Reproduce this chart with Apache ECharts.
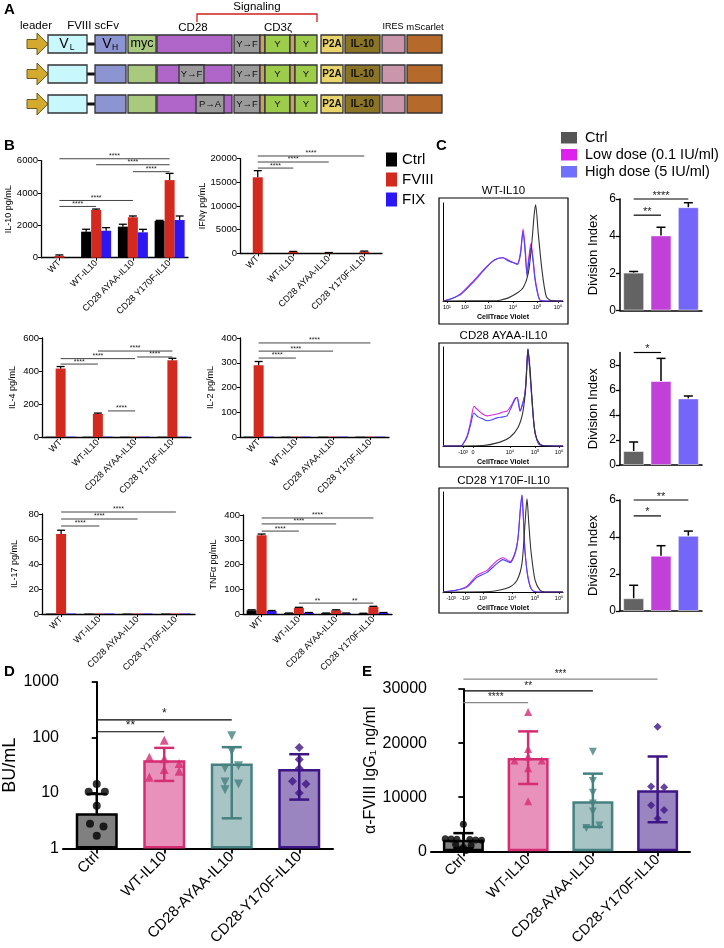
<!DOCTYPE html>
<html><head><meta charset="utf-8">
<script src="https://cdn.jsdelivr.net/npm/echarts@6/dist/echarts.min.js"></script>
<style>html,body{margin:0;padding:0;background:#fff}#c{width:724px;height:948px}</style>
</head><body><div id="c"></div>
<script>
const FONT = '"Liberation Sans", Arial, Helvetica, sans-serif';

// ---------- Panel B data ----------
const bGroups = ['WT', 'WT-IL10', 'CD28 AYAA-IL10', 'CD28 Y170F-IL10'];
const bConds = ['Ctrl', 'FVIII', 'FIX'];
const bColors = ['#000000', '#d3291f', '#2b17f5'];

const il10Ctrl = [0, 1610, 1920, 2270];
const il10Fviii = [110, 2950, 2500, 4800];
const il10Fix = [0, 1670, 1570, 2330];
const il10CtrlSd = [0, 150, 150, 40];
const il10FviiiSd = [60, 60, 80, 415];
const il10FixSd = [0, 190, 185, 250];
const il10Sig = [[0,0,3,0,6120],[1,0,3,0,5750],[2,0,3,0,5320],[0,0,2,0,3540],[0,0,1,0,3170]];
const il10SigLab = ['****','****','****','****','****'];

const ifnCtrl = [0, 0, 0, 0];
const ifnFviii = [16050, 300, 100, 350];
const ifnFix = [0, 0, 0, 0];
const ifnCtrlSd = [0, 0, 0, 0];
const ifnFviiiSd = [1400, 100, 60, 120];
const ifnFixSd = [0, 0, 0, 0];
const ifnSig = [[0,0,1,0,18000],[0,0,2,0,19280],[0,0,3,0,20550]];
const ifnSigLab = ['****','****','****'];

const il4Ctrl = [2, 2, 2, 2];
const il4Fviii = [415, 140, 2, 465];
const il4Fix = [2, 2, 2, 2];
const il4CtrlSd = [0, 0, 0, 0];
const il4FviiiSd = [12, 5, 0, 12];
const il4FixSd = [0, 0, 0, 0];
const il4Sig = [[1,0,3,0,521],[0,0,2,0,475],[2,0.2,3,0,485],[0,0,1,0,442],[1,1,2,0,158]];
const il4SigLab = ['****','****','****','****','****'];

const il2Ctrl = [1.5, 1.5, 1.5, 1.5];
const il2Fviii = [290, 1.5, 1.5, 1.5];
const il2Fix = [1.5, 1.5, 1.5, 1.5];
const il2CtrlSd = [0, 0, 0, 0];
const il2FviiiSd = [15, 0, 0, 0];
const il2FixSd = [0, 0, 0, 0];
const il2Sig = [[0,0,1,0,319],[0,0,2,0,347],[0,0,3,0,380]];
const il2SigLab = ['****','****','****'];

const il17Ctrl = [0.4, 0.4, 0.4, 0.4];
const il17Fviii = [64, 0.4, 0.4, 0.4];
const il17Fix = [0.4, 0.4, 0.4, 0.4];
const il17CtrlSd = [0, 0, 0, 0];
const il17FviiiSd = [3, 0, 0, 0];
const il17FixSd = [0, 0, 0, 0];
const il17Sig = [[0,0,1,0,70.4],[0,0,2,0,76],[0,0,3,0,81.6]];
const il17SigLab = ['****','****','****'];

const tnfCtrl = [15, 3, 3, 2];
const tnfFviii = [318, 25, 15, 28];
const tnfFix = [12, 5, 3, 5];
const tnfCtrlSd = [2, 1, 1, 1];
const tnfFviiiSd = [5, 2, 2, 3];
const tnfFixSd = [2, 1, 1, 1];
const tnfSig = [[0,0,1,0,335],[0,0,2,0,364],[0,0,3,0,388],[1,0,2,0,44],[2,0,3,0,44]];
const tnfSigLab = ['****','****','****','**','**'];

// ---------- Panel C data ----------
const cConds = ['Ctrl', 'Low dose (0.1 IU/ml)', 'High dose (5 IU/ml)'];
const cColors = ['#636363', '#c040d8', '#7366f8'];
const cWtDi = [2.04, 4.04, 5.56];
const cWtSd = [0.06, 0.44, 0.24];
const cWtSig = [[0,0,1,0,5.13],[0,0,2,0,6.0]];
const cWtSigLab = ['**', '****'];
const cAyaaDi = [1.12, 6.72, 5.33];
const cAyaaSd = [0.72, 1.81, 0.19];
const cAyaaSig = [[0,0,1,0,9.0]];
const cAyaaSigLab = ['*'];
const cY170fDi = [0.69, 2.99, 4.07];
const cY170fSd = [0.7, 0.54, 0.25];
const cY170fSig = [[0,0,1,0,5.14],[0,0,2,0,6.0]];
const cY170fSigLab = ['*', '**'];

// histogram curves: [channel (0-1000), % of max]
const h1Ctrl = [[0,0],[450,0.3],[475,0.8],[540,3],[614,8],[669,14],[711,29],[739,59],[760,90],[772,100],[794,70],[822,35],[845,14],[864,4],[900,0.5],[1000,0]];
const h1Low = [[0,0],[33,1],[100,4],[150,8],[200,14],[270,23],[333,32],[400,40],[450,44],[500,45],[540,43],[583,40],[620,39],[645,50],[667,75],[685,55],[700,29],[715,45],[733,60],[750,45],[767,24],[790,8],[808,1],[850,0],[1000,0]];
const h1High = [[0,0],[33,1],[100,4],[150,7],[200,13],[270,22],[333,31],[400,40],[450,44],[500,45],[540,42],[583,40],[620,38],[645,48],[667,72],[685,50],[700,26],[715,42],[733,56],[750,42],[767,22],[790,7],[808,1],[850,0],[1000,0]];
const h1TickPos = [33, 183, 375, 583, 783, 958];
const h1TickLab = ['10¹', '10²', '10³', '10⁴', '10⁵', '10⁶'];

const h2Ctrl = [[0,0],[330,0.5],[475,4],[558,9],[625,19],[667,36],[692,64],[708,100],[725,80],[742,49],[767,13],[808,2],[850,0],[1000,0]];
const h2Low = [[0,0],[150,0],[167,2],[200,10],[230,25],[258,41],[275,39],[292,37],[330,33],[367,31],[410,32],[450,33],[500,35],[533,36],[570,42],[600,49],[617,50],[630,44],[642,36],[660,42],[683,54],[695,75],[708,100],[725,75],[742,46],[760,20],[783,6],[810,1],[1000,0]];
const h2High = [[0,0],[150,0],[167,2],[200,9],[230,22],[258,34],[275,32],[292,30],[330,28],[367,26],[410,27],[450,29],[500,30],[533,31],[570,40],[600,48],[617,50],[630,44],[642,36],[660,42],[683,54],[695,75],[708,100],[725,75],[742,46],[760,20],[783,6],[810,1],[1000,0]];
const h2TickPos = [167, 250, 558, 767, 967];
const h2TickLab = ['-10³', '0', '10⁴', '10⁵', '10⁶'];

const h3Ctrl = [[0,0],[400,0.5],[475,2],[558,5],[617,12],[658,29],[683,69],[700,95],[715,70],[733,42],[767,12],[808,2],[850,0],[1000,0]];
const h3Low = [[0,0],[117,2],[200,6],[283,17],[367,22],[450,32],[500,35],[558,31],[600,40],[625,55],[645,85],[658,99],[670,75],[683,42],[708,15],[742,2],[800,0],[1000,0]];
const h3High = [[0,0],[117,2],[200,5],[283,15],[367,20],[450,29],[500,33],[558,30],[600,39],[625,55],[645,85],[658,99],[670,75],[683,42],[708,15],[742,2],[800,0],[1000,0]];
const h3TickPos = [67, 183, 333, 575, 767, 967];
const h3TickLab = ['-10³', '-10²', '10³', '10⁴', '10⁵', '10⁶'];

// ---------- Panel D data ----------
const deCats = ['Ctrl', 'WT-IL10', 'CD28-AYAA-IL10', 'CD28-Y170F-IL10'];
const deFill = ['#808080', '#e892bb', '#a8c4c4', '#9b85c1'];
const deEdge = ['#000000', '#d42d72', '#468181', '#3d1585'];
const buMean = [4.3, 39, 34, 27];
const buHi = [9.6, 65, 67, 50];
const buLo = [0, 16.5, 3.5, 7.6];
const buCtrlPts = [14.5, 10.5, 10.5, 5.9, 2.8, 2.5, 1.7];
const buCtrlJit = [0, -0.12, 0.12, 0, -0.1, 0.1, 0];
const buWtPts = [89, 44, 41.5, 34, 26.5, 24.6, 19.2];
const buWtJit = [0, -0.22, 0, 0.22, 0, 0.22, -0.22];
const buAyaaPts = [108, 57, 28, 31, 15.8, 14.5, 11.5];
const buAyaaJit = [0, 0, -0.1, 0.1, -0.1, 0.1, -0.1];
const buY170fPts = [66, 40, 27.5, 16.3, 14.5, 10];
const buY170fJit = [0, 0, 0, -0.1, 0.1, 0];
const buSig = [[0,0,1,0,127],[0,0,2,0,207]];
const buSigLab = ['**', '*'];

// ---------- Panel E data ----------
const igMean = [2150, 17250, 9270, 11290];
const igHi = [3370, 22170, 14360, 17530];
const igLo = [590, 12450, 4510, 5380];
const igCtrlPts = [5030, 2350, 2300, 2250, 2200, 2100, 2050, 1300, 1100, 700, 400, 150];
const igCtrlJit = [0, -0.28, -0.19, -0.1, 0.1, 0.19, 0.28, -0.12, 0.12, 0, -0.06, 0.04];
const igWtPts = [25760, 18920, 17530, 16790, 16790, 15350, 9270];
const igWtJit = [0, 0, 0, -0.21, 0.21, 0, 0];
const igAyaaPts = [18400, 13020, 10830, 8850, 7360, 4800, 4340];
const igAyaaJit = [0, 0, 0, 0, 0, 0.1, -0.1];
const igY170fPts = [23040, 11980, 11870, 8510, 7640, 6080];
const igY170fJit = [0, -0.1, 0.1, -0.1, 0.1, 0];
const igSig = [[0,0,1,0,27500],[0,0,2,0,29640],[0,0,3,0,31840]];
const igSigLab = ['****', '**', '***'];

// ================= builders =================
const BW = 10;
const plain = function (v) { return String(v); };
const grids = [], xAxes = [], yAxes = [], series = [];
const lineAx = (w) => ({ show: true, lineStyle: { color: '#000', width: w } });
const tickAx = (len, w) => ({ show: true, length: len, lineStyle: { color: '#000', width: w || 1 } });

function sigSeries(xi, yi, items, labels, o) {
  return {
    type: 'custom', xAxisIndex: xi, yAxisIndex: yi, data: items, silent: true, clip: false, z: 6,
    encode: { x: 0, y: 4 },
    renderItem: function (params, api) {
      const i = params.dataIndex;
      const p1 = api.coord([api.value(0), api.value(4)]);
      const p2 = api.coord([api.value(2), api.value(4)]);
      const x1 = p1[0] + api.value(1) * (o.bw || 0);
      const x2 = p2[0] + api.value(3) * (o.bw || 0);
      const y = p1[1];
      const col = o.colors ? o.colors[i] : (o.color || '#222');
      return { type: 'group', children: [
        { type: 'line', shape: { x1: x1, y1: y, x2: x2, y2: y }, style: { stroke: col, lineWidth: o.lw || 1 } },
        { type: 'text', x: (x1 + x2) / 2, y: y - (o.dy || 0), style: { text: labels[i], fill: '#222', fontSize: o.fs || 7, fontFamily: FONT, align: 'center', verticalAlign: 'bottom', textAlign: 'center', textVerticalAlign: 'bottom' } }
      ] };
    }
  };
}

function errUp(xi, yi, data, capHalf, lw, bw) {
  return {
    type: 'custom', xAxisIndex: xi, yAxisIndex: yi, data: data, silent: true, z: 4, clip: false,
    encode: { x: 0, y: 1 },
    renderItem: function (params, api) {
      const p = api.coord([api.value(0), api.value(1)]);
      const t = api.coord([api.value(0), api.value(1) + api.value(2)]);
      const x = p[0] + api.value(3) * bw;
      return { type: 'group', children: [
        { type: 'line', shape: { x1: x, y1: p[1], x2: x, y2: t[1] }, style: { stroke: '#000', lineWidth: lw } },
        { type: 'line', shape: { x1: x - capHalf, y1: t[1], x2: x + capHalf, y2: t[1] }, style: { stroke: '#000', lineWidth: lw } }
      ] };
    }
  };
}

function barChartB(o) {
  const gi = grids.push({ left: o.l, top: o.t, width: o.r - o.l, height: o.b - o.t }) - 1;
  const xi = xAxes.push({ gridIndex: gi, type: 'category', data: bGroups,
    axisLine: lineAx(1.3), axisTick: Object.assign(tickAx(3), { alignWithLabel: true }),
    axisLabel: { interval: 0, rotate: 45, fontSize: 9, fontFamily: FONT, color: '#000', margin: 4 } }) - 1;
  const yi = yAxes.push({ gridIndex: gi, type: 'value', min: 0, max: o.max, interval: o.interval,
    name: o.name, nameLocation: 'middle', nameGap: o.nameGap, nameRotate: 90,
    nameTextStyle: { fontSize: 9, fontFamily: FONT, color: '#000' },
    axisLine: lineAx(1.3), axisTick: tickAx(3), splitLine: { show: false },
    axisLabel: { formatter: plain, fontSize: 9.5, fontFamily: FONT, color: '#000', margin: 3 } }) - 1;
  const vals = [o.ctrl, o.fviii, o.fix], sds = [o.ctrlSd, o.fviiiSd, o.fixSd];
  vals.forEach(function (v, k) {
    series.push({ type: 'bar', name: bConds[k], xAxisIndex: xi, yAxisIndex: yi, data: v, barWidth: BW, barGap: '0%',
      itemStyle: { color: bColors[k] }, silent: true });
  });
  const eb = [];
  vals.forEach(function (v, k) { v.forEach(function (m, i) { if (sds[k][i] > 0) eb.push([i, m, sds[k][i], k - 1]); }); });
  series.push(errUp(xi, yi, eb, 4, 1.3, BW));
  series.push(sigSeries(xi, yi, o.sig, o.sigLab, { bw: BW, fs: 7, lw: 1, color: '#444', dy: -1 }));
}

function histPanel(o) {
  const gi = grids.push({ left: 443, top: o.t, width: 120, height: o.b - o.t }) - 1;
  const xi = xAxes.push({ gridIndex: gi, type: 'value', min: 0, max: 1000, splitLine: { show: false },
    axisLine: lineAx(1), axisTick: { show: true, customValues: o.tickPos, length: 2, lineStyle: { color: '#000', width: 0.8 } },
    axisLabel: { customValues: o.tickPos, formatter: function (v) { const j = o.tickPos.indexOf(v); return j >= 0 ? o.tickLab[j] : ''; },
      fontSize: 5.5, fontFamily: FONT, color: '#000', margin: 3 },
    name: 'CellTrace Violet', nameLocation: 'middle', nameGap: 13,
    nameTextStyle: { fontSize: 7, fontWeight: 'bold', fontFamily: FONT, color: '#000' } }) - 1;
  const yi = yAxes.push({ gridIndex: gi, type: 'value', min: 0, max: 102, axisLine: lineAx(1),
    axisTick: { show: false }, axisLabel: { show: false }, splitLine: { show: false } }) - 1;
  [[o.low, '#dd22dd'], [o.high, '#4646ff'], [o.ctrl, '#333333']].forEach(function (a) {
    series.push({ type: 'line', xAxisIndex: xi, yAxisIndex: yi, data: a[0], showSymbol: false, symbol: 'none', smooth: 0.25,
      lineStyle: { color: a[1], width: 1.1 }, silent: true });
  });
}

function cBar(o) {
  const gi = grids.push({ left: 620, top: o.t, width: 82, height: o.b - o.t }) - 1;
  const xi = xAxes.push({ gridIndex: gi, type: 'category', data: cConds, axisLine: lineAx(1.5),
    axisTick: { show: false }, axisLabel: { show: false } }) - 1;
  const ticks = [];
  for (let v = 0; v <= o.labMax; v += 2) ticks.push(v);
  const yi = yAxes.push({ gridIndex: gi, type: 'value', min: 0, max: o.max, interval: 2,
    name: 'Division Index', nameLocation: 'middle', nameGap: 20, nameRotate: 90,
    nameTextStyle: { fontSize: 13, fontFamily: FONT, color: '#000' },
    axisLine: lineAx(1.5), axisTick: { show: true, length: 4, customValues: ticks, lineStyle: { color: '#000', width: 1.3 } },
    splitLine: { show: false },
    axisLabel: { customValues: ticks, formatter: plain, fontSize: 12, fontFamily: FONT, color: '#000', margin: 4 } }) - 1;
  series.push({ type: 'bar', xAxisIndex: xi, yAxisIndex: yi, barWidth: 21, silent: true,
    data: o.vals.map(function (v, i) { return { value: v, itemStyle: { color: cColors[i], borderColor: 'rgba(255,255,255,0.5)', borderWidth: 1 } }; }) });
  series.push(errUp(xi, yi, o.vals.map(function (v, i) { return [i, v, o.sd[i], 0]; }), 4.5, 1.5, 0));
  series.push(sigSeries(xi, yi, o.sig, o.sigLab, { fs: 11, lw: 1.2, color: '#000', dy: -2 }));
}

function errDE(xi, yi, mean, lo, hi, capHalf, lw) {
  return {
    type: 'custom', xAxisIndex: xi, yAxisIndex: yi, silent: true, z: 4, clip: false,
    data: mean.map(function (m, i) { return [i, m, lo[i], hi[i]]; }),
    encode: { x: 0, y: 1 },
    renderItem: function (params, api) {
      const i = params.dataIndex;
      const col = deEdge[i];
      const pm = api.coord([api.value(0), api.value(1)]);
      const ph = api.coord([api.value(0), api.value(3)]);
      const x = pm[0];
      const st = { stroke: col, lineWidth: lw };
      const ch = [
        { type: 'line', shape: { x1: x, y1: pm[1], x2: x, y2: ph[1] }, style: st },
        { type: 'line', shape: { x1: x - capHalf, y1: ph[1], x2: x + capHalf, y2: ph[1] }, style: st }
      ];
      if (api.value(2) > 0) {
        const pl = api.coord([api.value(0), api.value(2)]);
        ch.push({ type: 'line', shape: { x1: x, y1: pm[1], x2: x, y2: pl[1] }, style: st });
        ch.push({ type: 'line', shape: { x1: x - capHalf, y1: pl[1], x2: x + capHalf, y2: pl[1] }, style: st });
      }
      return { type: 'group', children: ch };
    }
  };
}

function dePanel(o) {
  const gi = grids.push({ left: o.l, top: o.t, width: o.r - o.l, height: o.b - o.t }) - 1;
  const xi = xAxes.push({ gridIndex: gi, type: 'category', data: deCats, axisLine: lineAx(2),
    axisTick: Object.assign(tickAx(5, 1.8), { alignWithLabel: true }),
    axisLabel: { interval: 0, rotate: 45, fontSize: o.xfs, fontFamily: FONT, color: '#000', margin: 6 } }) - 1;
  const xv = xAxes.push({ gridIndex: gi, type: 'value', min: -0.5, max: 3.5, show: false }) - 1;
  const yi = yAxes.push(Object.assign({ gridIndex: gi, name: o.name, nameLocation: 'middle', nameGap: o.nameGap, nameRotate: 90,
    nameTextStyle: { fontSize: o.nfs, fontFamily: FONT, color: '#000' },
    axisLine: lineAx(2), axisTick: tickAx(5, 1.8), splitLine: { show: false }, minorTick: { show: false },
    axisLabel: { formatter: plain, fontSize: 16, fontFamily: FONT, color: '#000', margin: 4 } }, o.yax)) - 1;
  series.push({ type: 'bar', xAxisIndex: xi, yAxisIndex: yi, barWidth: o.bw, silent: true,
    data: o.mean.map(function (v, i) { return { value: v, itemStyle: { color: deFill[i], borderColor: deEdge[i], borderWidth: 2.5 } }; }) });
  const syms = [['circle', 0], ['triangle', 0], ['triangle', 180], ['diamond', 0]];
  o.pts.forEach(function (p, c) {
    series.push({ type: 'scatter', xAxisIndex: xv, yAxisIndex: yi, silent: true, z: 5,
      symbol: syms[c][0], symbolRotate: syms[c][1], symbolSize: c === 0 ? o.ss : o.ss + 1,
      itemStyle: { color: deEdge[c] },
      data: p.map(function (v, j) { return [c + o.jit[c][j], v]; }) });
  });
  series.push(errDE(xi, yi, o.mean, o.lo, o.hi, 10, 2.5));
  series.push(sigSeries(xi, yi, o.sig, o.sigLab, { fs: o.sfs, lw: 1.2, colors: o.sigCol, dy: 0 }));
}

// ================= build =================
barChartB({ l: 41, r: 188, t: 160.7, b: 257.7, max: 6000, interval: 2000, name: 'IL-10 pg/mL', nameGap: 27,
  ctrl: il10Ctrl, fviii: il10Fviii, fix: il10Fix, ctrlSd: il10CtrlSd, fviiiSd: il10FviiiSd, fixSd: il10FixSd, sig: il10Sig, sigLab: il10SigLab });
barChartB({ l: 240, r: 382, t: 158.6, b: 253.3, max: 20000, interval: 5000, name: 'IFNγ pg/mL', nameGap: 33,
  ctrl: ifnCtrl, fviii: ifnFviii, fix: ifnFix, ctrlSd: ifnCtrlSd, fviiiSd: ifnFviiiSd, fixSd: ifnFixSd, sig: ifnSig, sigLab: ifnSigLab });
barChartB({ l: 42, r: 191, t: 338, b: 437, max: 600, interval: 200, name: 'IL-4 pg/mL', nameGap: 25,
  ctrl: il4Ctrl, fviii: il4Fviii, fix: il4Fix, ctrlSd: il4CtrlSd, fviiiSd: il4FviiiSd, fixSd: il4FixSd, sig: il4Sig, sigLab: il4SigLab });
barChartB({ l: 240, r: 389, t: 338, b: 437, max: 400, interval: 100, name: 'IL-2 pg/mL', nameGap: 25,
  ctrl: il2Ctrl, fviii: il2Fviii, fix: il2Fix, ctrlSd: il2CtrlSd, fviiiSd: il2FviiiSd, fixSd: il2FixSd, sig: il2Sig, sigLab: il2SigLab });
barChartB({ l: 42, r: 195, t: 514, b: 614, max: 80, interval: 20, name: 'IL-17 pg/mL', nameGap: 23,
  ctrl: il17Ctrl, fviii: il17Fviii, fix: il17Fix, ctrlSd: il17CtrlSd, fviiiSd: il17FviiiSd, fixSd: il17FixSd, sig: il17Sig, sigLab: il17SigLab });
barChartB({ l: 243, r: 392, t: 515, b: 614, max: 400, interval: 100, name: 'TNFα pg/mL', nameGap: 25,
  ctrl: tnfCtrl, fviii: tnfFviii, fix: tnfFix, ctrlSd: tnfCtrlSd, fviiiSd: tnfFviiiSd, fixSd: tnfFixSd, sig: tnfSig, sigLab: tnfSigLab });

histPanel({ t: 203, b: 301, ctrl: h1Ctrl, low: h1Low, high: h1High, tickPos: h1TickPos, tickLab: h1TickLab });
histPanel({ t: 347, b: 446, ctrl: h2Ctrl, low: h2Low, high: h2High, tickPos: h2TickPos, tickLab: h2TickLab });
histPanel({ t: 492, b: 592, ctrl: h3Ctrl, low: h3Low, high: h3High, tickPos: h3TickPos, tickLab: h3TickLab });

cBar({ t: 199, b: 310.5, max: 6, labMax: 6, vals: cWtDi, sd: cWtSd, sig: cWtSig, sigLab: cWtSigLab });
cBar({ t: 352.5, b: 465, max: 9, labMax: 8, vals: cAyaaDi, sd: cAyaaSd, sig: cAyaaSig, sigLab: cAyaaSigLab });
cBar({ t: 500, b: 611, max: 6, labMax: 6, vals: cY170fDi, sd: cY170fSd, sig: cY170fSig, sigLab: cY170fSigLab });

dePanel({ l: 63, r: 333, t: 682, b: 862, bw: 42, xfs: 15, name: 'BU/mL', nfs: 18, nameGap: 42, ss: 8,
  yax: { type: 'log', logBase: 10, min: 1, max: 1000 },
  mean: buMean, lo: buLo, hi: buHi,
  pts: [buCtrlPts, buWtPts, buAyaaPts, buY170fPts], jit: [buCtrlJit, buWtJit, buAyaaJit, buY170fJit],
  sig: buSig, sigLab: buSigLab, sfs: 12, sigCol: ['#000', '#000'] });
dePanel({ l: 431, r: 690, t: 689, b: 861.7, bw: 41, xfs: 14.5, name: 'α-FVIII IgG₁ ng/ml', nfs: 16, nameGap: 52, ss: 7,
  yax: { type: 'value', min: 0, max: 30000, interval: 10000 },
  mean: igMean, lo: igLo, hi: igHi,
  pts: [igCtrlPts, igWtPts, igAyaaPts, igY170fPts], jit: [igCtrlJit, igWtJit, igAyaaJit, igY170fJit],
  sig: igSig, sigLab: igSigLab, sfs: 10, sigCol: ['#888', '#000', '#888'] });

// ================= graphics (panel A diagram, labels, frames) =================
const G = [];
function txt(x, y, t, size, extra) {
  G.push({ type: 'text', x: x, y: y, silent: true, z: 100,
    style: Object.assign({ text: t, fontSize: size, fontFamily: FONT, fill: '#000', align: 'center', verticalAlign: 'middle', textAlign: 'center', textVerticalAlign: 'middle' }, extra || {}) });
}
function rect(x, y, w, h, fill, extra) {
  G.push({ type: 'rect', silent: true, z: 99, shape: { x: x, y: y, width: w, height: h }, style: Object.assign({ fill: fill, stroke: '#333', lineWidth: 1.3 }, extra || {}) });
}
// panel letters
txt(4, 10, 'A', 15, { fontWeight: 'bold', align: 'left', textAlign: 'left' });
txt(4, 146, 'B', 15, { fontWeight: 'bold', align: 'left', textAlign: 'left' });
txt(436, 146, 'C', 15, { fontWeight: 'bold', align: 'left', textAlign: 'left' });
txt(4, 672, 'D', 15, { fontWeight: 'bold', align: 'left', textAlign: 'left' });
txt(362, 672, 'E', 15, { fontWeight: 'bold', align: 'left', textAlign: 'left' });

// Panel A
txt(36, 26, 'leader', 11.5);
txt(93, 26, 'FVIII scFv', 11.5);
txt(193, 28, 'CD28', 11.5);
txt(278, 28, 'CD3ζ', 11.5);
txt(257, 7, 'Signaling', 11.5);
txt(393, 27, 'IRES', 9);
txt(425, 27, 'mScarlet', 9.5);
G.push({ type: 'polyline', silent: true, z: 99, shape: { points: [[197, 22], [197, 14], [317, 14], [317, 22]] }, style: { stroke: '#d02020', lineWidth: 1.3, fill: null } });
const rowY = [35, 65, 95];
const RH = 18;
const segs = [
  [48, 87, '#c8f7fc'], [95, 126, '#8c94d2'], [128, 156, '#a9c97e'], [157, 232, '#b066c9'],
  [234, 260, '#9b9b9b', 'Y→F'], [260, 265, '#c9a06a'], [265, 290, '#9ccc4a', 'Y'], [290, 295, '#c9a06a'],
  [295, 317, '#9ccc4a', 'Y'], [321, 343, '#ead46c', 'P2A'], [345, 380, '#8b7426', 'IL-10'],
  [382, 405, '#c996ab'], [407, 442, '#b56a2c']
];
rowY.forEach(function (y, r) {
  const m = y + RH / 2;
  G.push({ type: 'polygon', silent: true, z: 99, shape: { points: [[27, m - 4.5], [37, m - 4.5], [37, m - 11], [48, m], [37, m + 11], [37, m + 4.5], [27, m + 4.5]] },
    style: { fill: '#d4aa2e', stroke: '#6b5a20', lineWidth: 1 } });
  G.push({ type: 'line', silent: true, z: 99, shape: { x1: 87, y1: m, x2: 95, y2: m }, style: { stroke: '#111', lineWidth: 3 } });
  segs.forEach(function (s) {
    rect(s[0], y, s[1] - s[0], RH, s[2]);
    if (s[3]) {
      const bold = (s[3] === 'P2A' || s[3] === 'IL-10');
      txt((s[0] + s[1]) / 2, m, s[3], bold ? 10 : 9.5, { fontWeight: bold ? 'bold' : 'normal', fill: '#111' });
    }
  });
  if (r === 0) {
    txt(64, m, 'V', 14);
    txt(72, m + 4, 'L', 8.5);
    txt(107, m, 'V', 14);
    txt(115, m + 4, 'H', 8.5);
    txt(142, m, 'myc', 12.5);
  }
  if (r === 1) { rect(179, y, 25, RH, '#9b9b9b'); txt(191.5, m, 'Y→F', 9.5, { fill: '#111' }); }
  if (r === 2) { rect(196, y, 28, RH, '#9b9b9b'); txt(210, m, 'P→A', 9.5, { fill: '#111' }); }
});

// Panel C legend
const cLegY = [132, 149, 166];
cConds.forEach(function (n, i) {
  G.push({ type: 'rect', silent: true, z: 99, shape: { x: 561, y: cLegY[i], width: 16, height: 11.5 }, style: { fill: ['#555555', '#dd22ee', '#7070ff'][i] } });
  txt(585, cLegY[i] + 6, n, 14.5, { align: 'left', textAlign: 'left' });
});
// histogram frames + titles
const hTitles = ['WT-IL10', 'CD28 AYAA-IL10', 'CD28 Y170F-IL10'];
const hFrames = [[198, 324], [343, 467], [488, 613]];
hFrames.forEach(function (f, i) {
  G.push({ type: 'rect', silent: true, z: 99, shape: { x: 439, y: f[0], width: 129, height: f[1] - f[0] }, style: { fill: null, stroke: '#000', lineWidth: 1.2 } });
  txt(503.5, f[0] - 7.5, hTitles[i], 11.5);
});

const option = {
  animation: false,
  textStyle: { fontFamily: FONT },
  legend: [{ data: bConds, orient: 'vertical', left: 381, top: 147, itemWidth: 11, itemHeight: 14, itemGap: 5,
    icon: 'rect', selectedMode: false, textStyle: { fontSize: 15, fontFamily: FONT, color: '#000' } }],
  grid: grids, xAxis: xAxes, yAxis: yAxes, series: series, graphic: G
};
const chart = echarts.init(document.getElementById('c'), null, { renderer: 'canvas', devicePixelRatio: 1 });
chart.setOption(option);
</script></body></html>
